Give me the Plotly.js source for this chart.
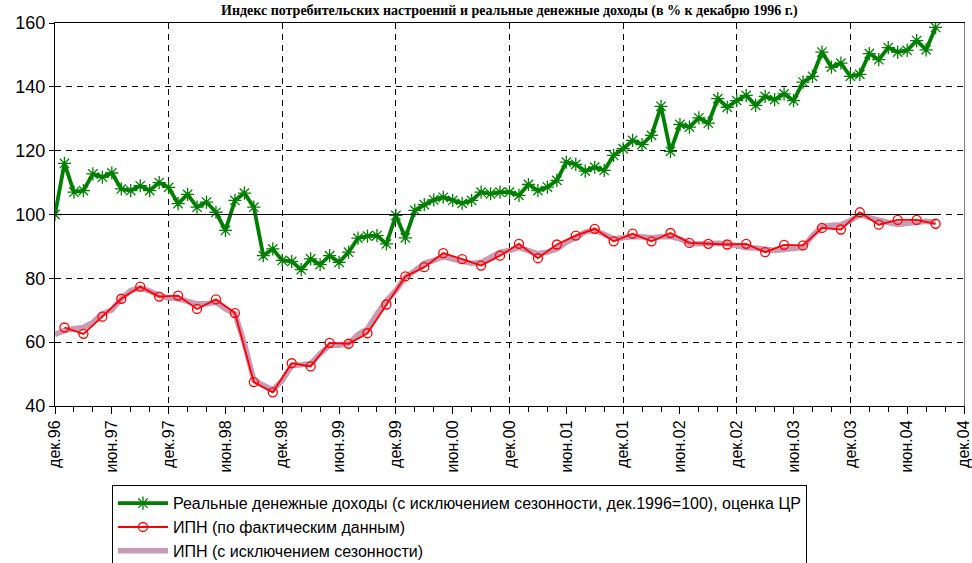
<!DOCTYPE html>
<html>
<head>
<meta charset="utf-8">
<script src="https://cdn.plot.ly/plotly-3.0.1.min.js"></script>
<style>html,body{margin:0;padding:0;background:#fff;}#chart{width:972px;height:563px;}</style>
</head>
<body>
<div id="chart"></div>
<script>
// Months counted from December 1996 (0 = дек.96)
const incomeMonths = [0,1,2,3,4,5,6,7,8,9,10,11,12,13,14,15,16,17,18,19,20,21,22,23,24,25,26,27,28,29,30,31,32,33,34,35,36,37,38,39,40,41,42,43,44,45,46,47,48,49,50,51,52,53,54,55,56,57,58,59,60,61,62,63,64,65,66,67,68,69,70,71,72,73,74,75,76,77,78,79,80,81,82,83,84,85,86,87,88,89,90,91,92,93];
const incomeValues = [100,116,107,107.5,112.7,111.7,113,108,107.5,109,107.5,110,108.5,103.4,106.3,102.3,103.9,100.7,95,104.4,106.7,102.3,87.1,89.2,85.6,85.3,82.7,86.1,84.3,87.1,85,88.2,92.6,93.2,93.4,90.8,99.7,92.7,101.3,103.1,104.6,105.4,104.4,103.5,104.4,107,106.5,107,107,106,109.4,107.5,108.6,110.7,116.4,115.7,113.6,114.8,113.8,118.5,120.6,123.2,121.9,124.8,133.9,119.8,128.2,127.4,130.3,128.6,136.3,133.6,135.7,137.3,134.2,137,136,137.8,135.7,141.5,143.3,150.9,146.2,147.4,143.3,143.9,150.4,148.5,152.3,150.9,151.4,154.5,151.6,158.6];

const ipnMonths = [1,3,5,7,9,11,13,15,17,19,21,23,25,27,29,31,33,35,37,39,41,43,45,47,49,51,53,55,57,59,61,63,65,67,69,71,73,75,77,79,81,83,85,87,89,91,93];
const ipnValues = [64.6,62.6,68,73.6,77.4,74.3,74.6,70.4,73.4,69.1,47.5,44.3,53.4,52.4,59.8,59.5,62.8,71.8,80.6,83.5,87.9,86,84,87.1,90.8,86.3,90.6,93.4,95.5,91.6,94,91.6,94.2,91.1,90.8,90.6,90.8,88.2,90.5,90.3,95.8,95.3,100.7,96.8,98.3,98.3,97.1];

const ipnSaMonths = incomeMonths;
const ipnSaValues = [62.4,63.7,64.2,64.6,66.2,68.9,70.1,73.6,76.2,77,76,74.6,73.9,73.6,72.8,72,72,72.5,70.4,68.9,59.6,48,46.5,45,48,52.7,52.9,53.3,56.4,59,59,59.5,62.4,64.2,68.9,73,76.2,80.4,82.4,84.7,85.6,86.8,86,85.4,84.7,85,86.8,88.2,88.7,89.7,88.7,87.7,88.2,89.2,91.3,93.1,94.5,95.2,93.7,92.4,92.7,93.1,93,92.7,93,93.1,92.4,91,90.8,91,91,90.8,90,89.6,89.5,88.9,88.7,89,89.2,89.7,93.4,96.2,96.6,96.8,98.1,100,99,98.1,97.5,96.9,97.3,97.9,97.9,97.5];

const baseMonths = [0,93];
const baseValues = [100,100];

const tickMonths = [0,6,12,18,24,30,36,42,48,54,60,66,72,78,84,90,96];
const tickLabels = ["дек.96","июн.97","дек.97","июн.98","дек.98","июн.99","дек.99","июн.00","дек.00","июн.01","дек.01","июн.02","дек.02","июн.03","дек.03","июн.04","дек.04"];

const seriesNames = [
  "Реальные денежные доходы (с исключением сезонности, дек.1996=100), оценка ЦР",
  "ИПН (по фактическим данным)",
  "ИПН (с исключением сезонности)"
];
const titleText = "Индекс потребительских настроений и реальные денежные доходы (в % к декабрю 1996 г.)";

const traces = [
  {x: baseMonths, y: baseValues, xaxis: 'x2', yaxis: 'y2', mode: 'lines',
   line: {color: '#000000', width: 1.2}, showlegend: false, hoverinfo: 'skip'},
  {x: ipnSaMonths, y: ipnSaValues, mode: 'lines', name: seriesNames[2],
   line: {color: '#C79AB5', width: 5.5}},
  {x: ipnMonths, y: ipnValues, mode: 'lines+markers', name: seriesNames[1],
   line: {color: '#FF0000', width: 1.8},
   marker: {symbol: 'circle-open', size: 9, color: '#FF0000', line: {width: 1.3, color: '#FF0000'}}},
  {x: incomeMonths, y: incomeValues, mode: 'lines+markers', name: seriesNames[0],
   line: {color: '#008000', width: 3.8},
   marker: {symbol: 'asterisk-open', size: 11, color: '#008000', line: {width: 1.3, color: '#008000'}}}
];

const layout = {
  width: 972, height: 563,
  margin: {l: 55, r: 8, t: 23, b: 157, autoexpand: false},
  paper_bgcolor: '#ffffff', plot_bgcolor: '#ffffff',
  font: {family: 'Liberation Sans, Arial, sans-serif', color: '#000000'},
  showlegend: true,
  legend: {
    x: 0.0627, y: -0.207, xanchor: 'left', yanchor: 'top',
    traceorder: 'reversed',
    bgcolor: '#ffffff', bordercolor: '#000000', borderwidth: 1,
    font: {size: 16, family: 'Liberation Sans, Arial, sans-serif'},
    tracegroupgap: 0, itemwidth: 50
  },
  xaxis: {
    range: [0, 96], tickmode: 'array', tickvals: tickMonths, ticktext: tickLabels,
    tickangle: -90, ticks: 'outside', ticklen: 7, tickcolor: '#000000', tickwidth: 1,
    showgrid: false, zeroline: false, showline: true, linecolor: '#000000', linewidth: 1,
    mirror: true, automargin: false, ticklabeloverflow: 'allow',
    tickfont: {size: 16},
    minor: {dtick: 2, tick0: 0, ticks: 'outside', ticklen: 5, tickcolor: '#000000', showgrid: false}
  },
  xaxis2: {
    overlaying: 'x', matches: 'x', range: [0, 96], dtick: 12, tick0: 0,
    showgrid: true, gridcolor: '#000000', gridwidth: 1, griddash: '6px,5px',
    showticklabels: false, ticks: '', showline: false, zeroline: false, automargin: false
  },
  yaxis: {
    range: [40, 160], dtick: 20, tick0: 40, ticks: 'outside', ticklen: 5,
    tickcolor: '#000000', showgrid: true, gridcolor: '#000000', gridwidth: 1,
    griddash: '6px,5px', zeroline: false, showline: true, linecolor: '#000000',
    linewidth: 1, tickfont: {size: 18}, automargin: false
  },
  yaxis2: {
    overlaying: 'y', matches: 'y', range: [40, 160], side: 'right',
    showline: true, linecolor: '#808080', linewidth: 1, showgrid: false,
    showticklabels: false, ticks: '', zeroline: false, automargin: false
  },
  annotations: [{
    text: '<b>' + titleText + '</b>', xref: 'paper', yref: 'paper',
    x: 0.5, y: 1, xanchor: 'center', yanchor: 'bottom', yshift: 2,
    showarrow: false, font: {family: 'Liberation Serif, Times New Roman, serif', size: 14}
  }]
};

Plotly.newPlot('chart', traces, layout, {displayModeBar: false, staticPlot: true});
</script>
</body>
</html>
